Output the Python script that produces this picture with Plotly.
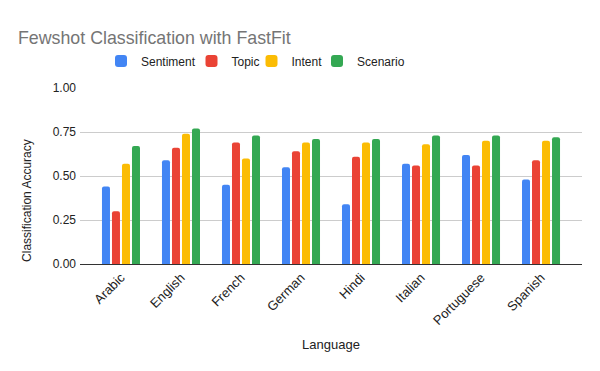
import plotly.graph_objects as go

# Data
languages = ['Arabic', 'English', 'French', 'German', 'Hindi', 'Italian', 'Portuguese', 'Spanish']
sentiment = [0.44, 0.59, 0.45, 0.55, 0.34, 0.57, 0.62, 0.48]
topic = [0.30, 0.66, 0.69, 0.64, 0.61, 0.56, 0.56, 0.59]
intent = [0.57, 0.74, 0.60, 0.69, 0.69, 0.68, 0.70, 0.70]
scenario = [0.67, 0.77, 0.73, 0.71, 0.71, 0.73, 0.73, 0.72]

series = [
    ('Sentiment', sentiment, '#4285F4'),
    ('Topic', topic, '#EA4335'),
    ('Intent', intent, '#FBBC04'),
    ('Scenario', scenario, '#34A853'),
]

# one legend per series so the items can sit close together like the original
legend_x = [143, 220.5, 281.5, 355.5]
legend_names = ['legend', 'legend2', 'legend3', 'legend4']

fig = go.Figure()
for (name, vals, color), lg in zip(series, legend_names):
    fig.add_trace(go.Bar(x=languages, y=vals, name=name, marker_color=color,
                         marker_line_width=0, legend=lg, showlegend=True))

legend_style = {}
for lx, lg in zip(legend_x, legend_names):
    legend_style[lg] = dict(orientation='h', x=lx / 600, xanchor='center', xref='container',
                            y=1 - 53 / 371, yanchor='middle', yref='container',
                            font=dict(size=12, color='#222222'), itemwidth=30,
                            bgcolor='rgba(0,0,0,0)')

fig.update_layout(
    width=600, height=371, showlegend=True,
    font=dict(family='Liberation Sans, Arial, sans-serif', size=12, color='#222222'),
    title=dict(text='Fewshot Classification with FastFit', x=10 / 600, xanchor='left',
               y=1 - 30 / 371, yanchor='middle', yref='container',
               font=dict(size=17.8, color='#757575')),
    barmode='group', bargap=0.333, bargroupgap=0.2, barcornerradius=2,
    plot_bgcolor='white', paper_bgcolor='white',
    margin=dict(l=72, r=26, t=80, b=115, autoexpand=False),
    xaxis=dict(title=dict(text='Language', standoff=13, font=dict(size=13)), tickangle=-45,
               tickfont=dict(size=13), range=[-0.683, 7.683],
               showline=True, linecolor='#333333', linewidth=1, ticks=''),
    yaxis=dict(range=[0, 1], dtick=0.25, tickformat='.2f', tickfont=dict(size=12),
               ticklabelstandoff=3,
               gridcolor='#cccccc', zeroline=False, showline=False),
    annotations=[dict(text='Classification Accuracy', textangle=-90,
                      xref='paper', x=-0.1056, xanchor='center',
                      yref='paper', y=0.364, yanchor='middle',
                      showarrow=False, font=dict(size=12, color='#222222'))],
    **legend_style,
)

fig.write_html('out.html')
